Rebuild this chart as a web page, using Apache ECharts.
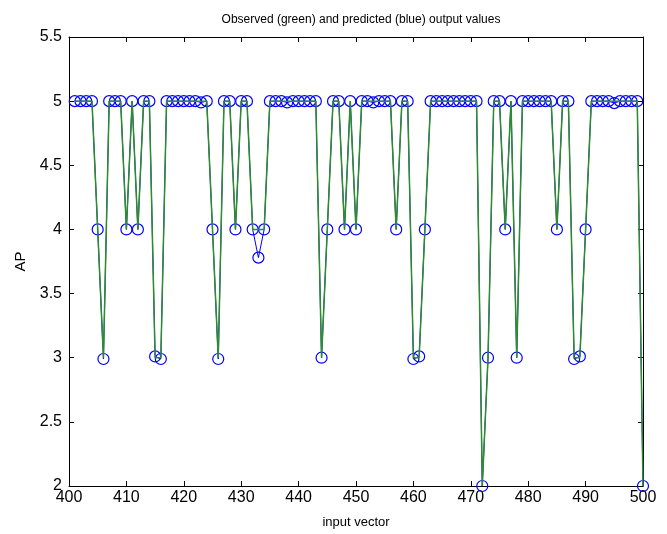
<!DOCTYPE html>
<html>
<head>
<meta charset="utf-8">
<script src="https://cdn.jsdelivr.net/npm/echarts@6/dist/echarts.min.js"></script>
<style>html,body{margin:0;padding:0;background:#fff}#c{width:667px;height:534px}</style>
</head>
<body>
<div id="c"></div>
<script>
var inputVector = [401,402,403,404,405,406,407,408,409,410,
  411,412,413,414,415,416,417,418,419,420,
  421,422,423,424,425,426,427,428,429,430,
  431,432,433,434,435,436,437,438,439,440,
  441,442,443,444,445,446,447,448,449,450,
  451,452,453,454,455,456,457,458,459,460,
  461,462,463,464,465,466,467,468,469,470,
  471,472,473,474,475,476,477,478,479,480,
  481,482,483,484,485,486,487,488,489,490,
  491,492,493,494,495,496,497,498,499,500];

var observed = [5,5,5,5,4,3,5,5,5,4,
  5,4,5,5,3,3,5,5,5,5,
  5,5,5,5,4,3,5,5,4,5,
  5,4,4,4,5,5,5,5,5,5,
  5,5,5,3,4,5,5,4,5,4,
  5,5,5,5,5,5,4,5,5,3,
  3,4,5,5,5,5,5,5,5,5,
  5,2,3,5,5,4,5,3,5,5,
  5,5,5,5,4,5,5,3,3,4,
  5,5,5,5,5,5,5,5,5,2];

var predicted = [5,5,5,5,4,2.99,5,5,5,4,
  5,4,5,5,3.01,2.99,5,5,5,5,
  5,5,4.99,5,4,2.99,5,5,4,5,
  5,4,3.78,4,5,5,5,4.99,5,5,
  5,5,5,3,4,5,5,4,5,4,
  5,5,4.99,5,5,5,4,5,5,2.99,
  3.01,4,5,5,5,5,5,5,5,5,
  5,2,3,5,5,4,5,3,5,5,
  5,5,5,5,4,5,5,2.99,3.01,4,
  5,5,5,5,4.985,5,5,5,5,2];

var xTicks = [400,410,420,430,440,450,460,470,480,490,500];
var yTicks = [2,2.5,3,3.5,4,4.5,5,5.5];

var chart = echarts.init(document.getElementById('c'), null, {renderer:'canvas'});
var font = '"Liberation Sans", Arial, sans-serif';
var axisLine = {show:true, onZero:false, lineStyle:{color:'#000', width:1}};
var tick = {show:true, inside:true, length:5, lineStyle:{color:'#000', width:1}};

function pairs(ys){ return inputVector.map(function(x,i){ return [x, ys[i]]; }); }

chart.setOption({
  animation:false,
  backgroundColor:'#fff',
  title:{
    text:'Observed (green) and predicted (blue) output values',
    left:356, top:9, textAlign:'center',
    textStyle:{fontFamily:font, fontSize:12, fontWeight:'normal', color:'#000'}
  },
  grid:{left:69, right:24, top:37, bottom:48, containLabel:false},
  xAxis:[{
    type:'value', min:xTicks[0], max:xTicks[xTicks.length-1], interval:10,
    position:'bottom', axisLine:axisLine, axisTick:tick, splitLine:{show:false},
    axisLabel:{fontFamily:font, fontSize:16, color:'#000', margin:4},
    name:'input vector', nameLocation:'middle', nameGap:30,
    nameTextStyle:{fontFamily:font, fontSize:13, color:'#000'}
  },{
    type:'value', min:xTicks[0], max:xTicks[xTicks.length-1], interval:10,
    position:'top', axisLine:axisLine, axisTick:tick, axisLabel:{show:false}, splitLine:{show:false}
  }],
  yAxis:[{
    type:'value', min:yTicks[0], max:yTicks[yTicks.length-1], interval:0.5,
    position:'left', axisLine:axisLine, axisTick:tick, splitLine:{show:false},
    axisLabel:{fontFamily:font, fontSize:16, color:'#000', margin:7},
    name:'AP', nameLocation:'middle', nameGap:40, nameRotate:90,
    nameTextStyle:{fontFamily:font, fontSize:15, color:'#000'}
  },{
    type:'value', min:yTicks[0], max:yTicks[yTicks.length-1], interval:0.5,
    position:'right', axisLine:axisLine, axisTick:tick, axisLabel:{show:false}, splitLine:{show:false}
  }],
  series:[{
    name:'predicted', type:'line', xAxisIndex:0, yAxisIndex:0,
    data:pairs(predicted),
    symbol:'circle', symbolSize:11, showSymbol:true,
    lineStyle:{color:'#0000ff', width:1},
    itemStyle:{color:'rgba(0,0,0,0)', borderColor:'#0000ff', borderWidth:1.2},
    z:2
  },{
    name:'observed', type:'line', xAxisIndex:0, yAxisIndex:0,
    data:pairs(observed),
    symbol:'none', showSymbol:false,
    lineStyle:{color:'#2e8b2e', width:1.5},
    z:3
  }]
});
</script>
</body>
</html>
